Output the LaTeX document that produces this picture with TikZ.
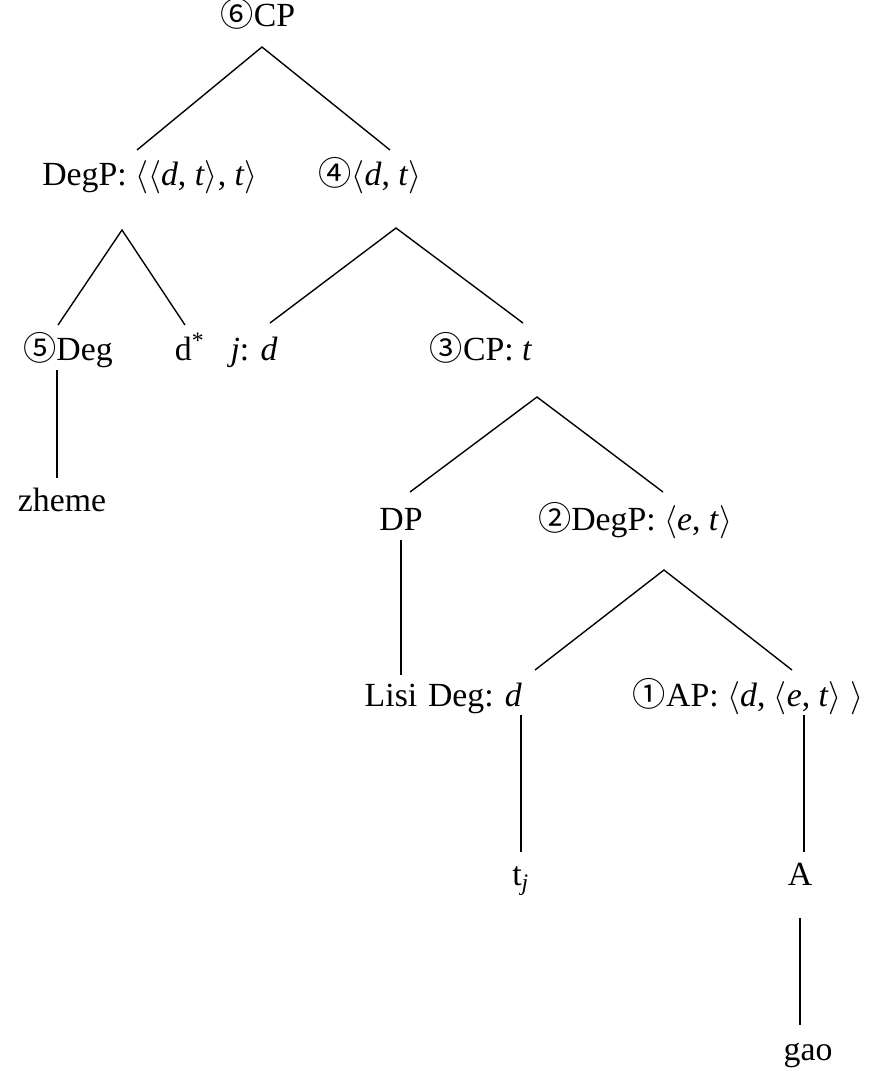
\documentclass[tikz,border=0pt]{standalone}
\usepackage{fontspec}
\setmainfont{Liberation Serif}
\newfontfamily\circfont{Noto Sans CJK SC}
\usetikzlibrary{calc}

\newcommand{\cn}[1]{{\circfont\fontsize{12}{14}\selectfont #1}}
\newcommand{\la}{$\langle$}
\newcommand{\ra}{$\rangle$}

\begin{document}
\begin{tikzpicture}[x=0.0127cm, y=-0.0127cm,
  lbl/.style={inner sep=0pt, text height=9pt, text depth=3pt, font=\fontsize{12.2}{14}\selectfont},
  edge/.style={line width=0.5pt}]

\useasboundingbox (0,0) rectangle (890,1077);

% Define nodes
\node[lbl] (cp6) at (258,18) {\cn{⑥}CP};
\node[lbl] (dg) at (150,177) {DegP: \la\la\textit{d}, \textit{t}\ra, \textit{t}\ra};
\node[lbl] (n4) at (370,177) {\cn{④}\la\textit{d}, \textit{t}\ra};
\node[lbl] (d5) at (68,352) {\cn{⑤}Deg};
\node[lbl] (dstar) at (190,352) {d\textsuperscript{*}};
\node[lbl] (j) at (254,352) {\textit{j}: \textit{d}};
\node[lbl] (cp3) at (481,352) {\cn{③}CP: \textit{t}};
\node[lbl] (zheme) at (62,503) {zheme};
\node[lbl] (dp) at (401,522) {DP};
\node[lbl] (dg2) at (635,522) {\cn{②}DegP: \la\textit{e}, \textit{t}\ra};
\node[lbl] (lisi) at (391,698) {Lisi};
\node[lbl] (degd) at (475,698) {Deg: \textit{d}};
\node[lbl] (ap) at (748,698) {\cn{①}AP: \la\textit{d}, \la\textit{e}, \textit{t}\ra\ \ra};
\node[lbl] (tj) at (521,877) {t\textsubscript{\textit{j}}};
\node[lbl] (A) at (800,877) {A};
\node[lbl] (gao) at (808,1052) {gao};

% Branches
\draw[edge] ($(dg)+(-13,-27)$) -- ($(cp6)+(4,29)$) -- ($(n4)+(20,-27)$);
\draw[edge] ($(d5)+(-10,-27)$) -- ($(dg)+(-28,53)$) -- ($(dstar)+(-5,-27)$);
\draw[edge] ($(j)+(16,-29)$) -- ($(n4)+(26,51)$) -- ($(cp3)+(42,-29)$);
\draw[edge] ($(dp)+(9,-30)$) -- ($(cp3)+(56,45)$) -- ($(dg2)+(28,-30)$);
\draw[edge] ($(degd)+(60,-28)$) -- ($(dg2)+(29,48)$) -- ($(ap)+(44,-28)$);

% Unary lines
\draw[edge] ($(d5)+(-11,18)$) -- ($(zheme)+(-5,-25)$);
\draw[edge] ($(dp)+(0,18)$) -- ($(lisi)+(10,-23)$);
\draw[edge] ($(degd)+(46,17)$) -- ($(tj)+(0,-25)$);
\draw[edge] ($(ap)+(56,17)$) -- ($(A)+(4,-25)$);
\draw[edge] ($(A)+(0,41)$) -- ($(gao)+(-8,-27)$);

\end{tikzpicture}
\end{document}
